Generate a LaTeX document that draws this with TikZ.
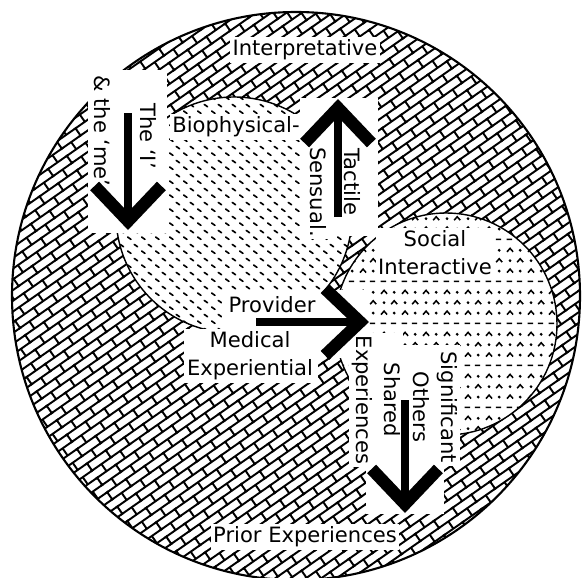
\documentclass[tikz,border=0pt]{standalone}
\usepackage{fontspec}
\setmainfont{DejaVu Sans}
\usetikzlibrary{arrows.meta,patterns.meta}

% fills of the three zones
\tikzdeclarepattern{
  name=slantbricks, type=uncolored,
  bounding box={(-1pt,-1pt) and (14pt,11pt)},
  tile size={(13pt,10pt)},
  tile transformation={rotate=35},
  code={
    \draw[line width=1.1pt] (-1pt,0) -- (14pt,0) (-1pt,5pt) -- (14pt,5pt)
      (0,0) -- (0,5pt) (6.5pt,5pt) -- (6.5pt,10pt);
  }
}
\tikzdeclarepattern{
  name=biodash, type=uncolored,
  bounding box={(0,0) and (8pt,8pt)},
  tile size={(8pt,8pt)},
  code={
    \draw[line width=1pt,line cap=round] (1pt,3pt) -- (3pt,1.6pt)
      (5pt,7pt) -- (7pt,5.6pt);
  }
}
\tikzdeclarepattern{
  name=socialmarks, type=uncolored,
  bounding box={(0,0) and (12pt,24pt)},
  tile size={(12pt,24pt)},
  code={
    \draw[line width=.9pt] (1pt,1.5pt) -- (4.2pt,1.5pt) (7pt,1.5pt) -- (10.2pt,1.5pt)
      (1.2pt,6.6pt) -- (3pt,8.6pt) -- (4.8pt,6.6pt)
      (7.2pt,12.6pt) -- (9pt,14.6pt) -- (10.8pt,12.6pt)
      (1.2pt,18.6pt) -- (3pt,20.6pt) -- (4.8pt,18.6pt);
    \fill (9pt,7.5pt) circle (.9pt) (3pt,13.5pt) circle (.9pt)
      (9pt,19.5pt) circle (.9pt);
  }
}

\begin{document}
\begin{tikzpicture}[x=0.02cm,y=-0.02cm,
  lbl/.style={fill=white,inner sep=1.5pt,font=\fontsize{12}{16}\selectfont},
  vlbl/.style={lbl,rotate=-90,align=center},
  bigarrow/.style={line width=4pt,-{Straight Barb[length=20pt,width=38pt,line width=7pt]}}]
  \useasboundingbox (0,0) rectangle (582,578);
  % outer ring and the two inner zones
  \draw[line width=1.2pt,pattern=slantbricks] (296,296) circle (284);
  \draw[line width=.8pt,fill=white,postaction={pattern=biodash}] (234,215) circle (118);
  \draw[line width=.8pt,fill=white,postaction={pattern=socialmarks}] (446,324) circle (111);
  % cleared places under the arrows
  \fill[white] (88,70) rectangle (167,233);
  \fill[white] (300,98) rectangle (378,236);
  \fill[white] (222,290) rectangle (368,358);
  \fill[white] (188,330) rectangle (318,383);
  \fill[white] (354,345) rectangle (460,466);
  \fill[white] (366,466) rectangle (444,514);

  \coordinate (me top) at (128,113);
  \coordinate (me tip) at (128,230);
  \coordinate (tactile foot) at (338,217);
  \coordinate (tactile tip) at (338,99);
  \coordinate (provider foot) at (256,322);
  \coordinate (provider tip) at (369,322);
  \coordinate (shared top) at (405,400);
  \coordinate (shared tip) at (405,513);

  \node[lbl] (interp) at (305,50) {Interpretative};
  \node[lbl] (prior) at (305,537) {Prior Experiences};
  \node[lbl] (bio) at (236,127) {Biophysical-};
  \node[vlbl] (theI) at (148,136) {The ‘I’};
  \node[vlbl] (theme) at (102,131) {\& the ‘me’};
  \node[vlbl] (tactile) at (352,182) {Tactile};
  \node[vlbl] (sensual) at (318,192) {Sensual.};
  \node[lbl,align=center] (social) at (435,253) {Social\\Interactive};
  \node[lbl] (provider) at (272,305) {Provider};
  \node[lbl,align=center] (medical) at (250,356) {Medical\\Experiential};
  \node[vlbl] (shared) at (376,400) {Shared\\Experiences};
  \node[vlbl] (others) at (435,407) {Significant\\Others};

  \draw[bigarrow] (me top) -- (me tip);
  \draw[bigarrow] (tactile foot) -- (tactile tip);
  \draw[bigarrow] (provider foot) -- (provider tip);
  \draw[bigarrow] (shared top) -- (shared tip);
\end{tikzpicture}
\end{document}
